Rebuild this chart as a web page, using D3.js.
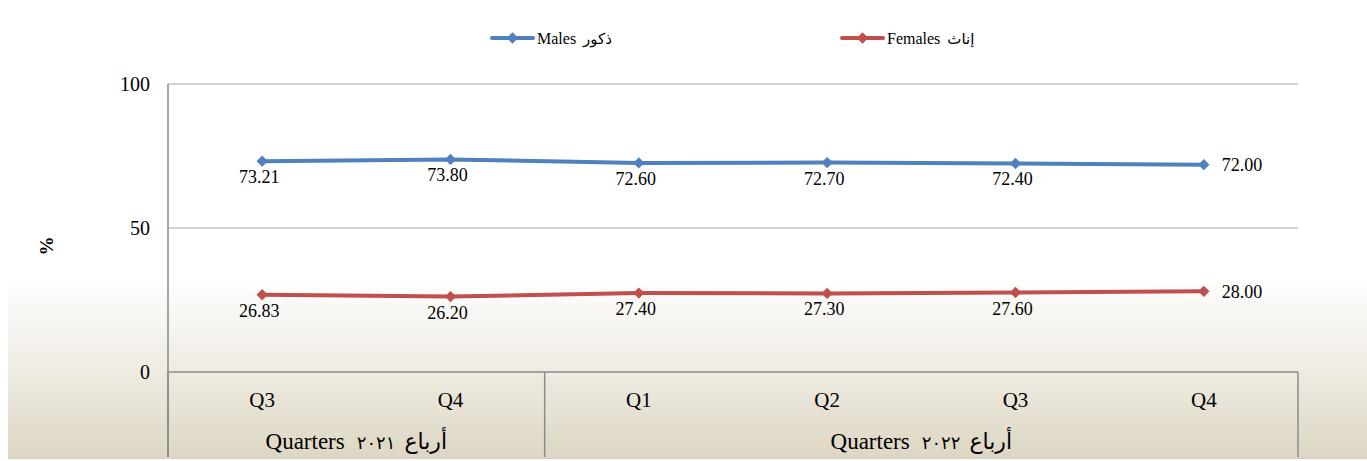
<!DOCTYPE html>
<html><head><meta charset="utf-8">
<script src="https://cdn.jsdelivr.net/npm/d3@7/dist/d3.min.js"></script>
<style>
html,body{margin:0;padding:0;background:#fff;}
svg{display:block;}
text{font-family:"Liberation Serif","Times New Roman",serif;fill:#000;}
.ar{font-family:"DejaVu Sans","Noto Sans",sans-serif;}
</style></head>
<body>
<svg id="c" width="1367" height="461"></svg>
<script>
const categories = ["Q3","Q4","Q1","Q2","Q3","Q4"];
const groups = [
  {en:"Quarters", num:"٢٠٢١", ar:"أرباع", start:0, end:2},
  {en:"Quarters", num:"٢٠٢٢", ar:"أرباع", start:2, end:6}
];
const males = [73.21, 73.80, 72.60, 72.70, 72.40, 72.00];
const females = [26.83, 26.20, 27.40, 27.30, 27.60, 28.00];
const yTicks = [0, 50, 100];
const seriesNames = [
  {en:"Males", ar:"ذكور", values: males, color:"#4f81bd"},
  {en:"Females", ar:"إناث", values: females, color:"#c0504d"}
];

const svg = d3.select("#c");
const L = 168, R = 1298, T = 84, B = 372, AX = 457;

// background
const defs = svg.append("defs");
const g1 = defs.append("linearGradient").attr("id","bg").attr("x1",0).attr("y1",0).attr("x2",0).attr("y2",1);
g1.append("stop").attr("offset","0").attr("stop-color","#ffffff");
g1.append("stop").attr("offset","0.6").attr("stop-color","#ffffff");
g1.append("stop").attr("offset","0.8").attr("stop-color","#efece3");
g1.append("stop").attr("offset","1").attr("stop-color","#ddd6c3");
svg.append("rect").attr("x",8).attr("y",3).attr("width",1359).attr("height",456).attr("fill","#cfcfcf");
svg.append("rect").attr("x",8).attr("y",3).attr("width",1359).attr("height",455).attr("fill","url(#bg)");

const x = d3.scaleBand().domain(d3.range(categories.length)).range([L, R]).padding(0);
const cx = i => x(i) + x.bandwidth()/2;
const y = d3.scaleLinear().domain([0,100]).range([B, T]);

// gridlines
svg.append("g").selectAll("line").data(yTicks.filter(d=>d>0)).join("line")
  .attr("x1",L).attr("x2",R).attr("y1",d=>y(d)).attr("y2",d=>y(d))
  .attr("stroke","#c4c4c4").attr("stroke-width",1.5);

// y axis labels
const ya = svg.append("g").attr("transform",`translate(${L-18},0)`)
  .call(d3.axisLeft(y).tickValues(yTicks).tickSize(0).tickPadding(0).tickFormat(d3.format("d")));
ya.select(".domain").remove();
ya.selectAll("text").style("font-family",'"Liberation Serif",serif').style("font-size","20px").attr("fill","#000");

// axis lines
svg.append("line").attr("x1",L).attr("x2",L).attr("y1",T).attr("y2",AX).attr("stroke","#8a8a8a").attr("stroke-width",1.5);
svg.append("line").attr("x1",L).attr("x2",R).attr("y1",B).attr("y2",B).attr("stroke","#8a8a8a").attr("stroke-width",1.5);
// group separators
const seps = [0, ...groups.map(g=>g.end)];
svg.append("g").selectAll("line").data(seps).join("line")
  .attr("x1",d=> d===categories.length ? R : x(d)).attr("x2",d=> d===categories.length ? R : x(d))
  .attr("y1",B).attr("y2",AX).attr("stroke","#8a8a8a").attr("stroke-width",1.5);

// category labels
svg.append("g").selectAll("text").data(categories).join("text")
  .attr("x",(d,i)=>cx(i)).attr("y",407).attr("text-anchor","middle")
  .style("font-size","21px").text(d=>d);

// group labels
groups.forEach(g=>{
  const center = (x(g.start) + (g.end===categories.length ? R : x(g.end)))/2;
  const gg = svg.append("g");
  const t1 = gg.append("text").attr("y",449).style("font-size","23px").text(g.en);
  const t2 = gg.append("text").attr("class","ar").attr("y",449).style("font-size","18px").style("letter-spacing","5px").text(g.num);
  const t3 = gg.append("text").attr("class","ar").attr("y",449).style("font-size","22px").text(g.ar);
  const w1 = t1.node().getComputedTextLength(), w2 = t2.node().getComputedTextLength(), w3 = t3.node().getComputedTextLength();
  const gap1 = 12, gap2 = 9;
  const total = w1+gap1+w2+gap2+w3;
  let sx = center - total/2;
  t1.attr("x",sx); t2.attr("x",sx+w1+gap1); t3.attr("x",sx+w1+gap1+w2+gap2);
});

// y title
svg.append("text").attr("transform","translate(46,246) rotate(-90)").attr("text-anchor","middle")
  .attr("dy","0.35em").style("font-size","19px").style("font-weight","bold").text("%");

// series
const line = d3.line().x((d,i)=>cx(i)).y(d=>y(d));
const diamond = d3.symbol().type(d3.symbolSquare).size(64);
seriesNames.forEach(s=>{
  svg.append("path").datum(s.values).attr("d",line).attr("fill","none")
    .attr("stroke",s.color).attr("stroke-width",4).attr("stroke-linejoin","round");
  svg.append("g").selectAll("path").data(s.values).join("path")
    .attr("d",diamond).attr("transform",(d,i)=>`translate(${cx(i)},${y(d)}) rotate(45)`)
    .attr("fill",s.color);
  svg.append("g").selectAll("text").data(s.values).join("text")
    .attr("x",(d,i)=> i===s.values.length-1 ? cx(i)+18 : cx(i)-3)
    .attr("y",(d,i)=> i===s.values.length-1 ? y(d) : y(d)+22)
    .attr("dy",(d,i)=> i===s.values.length-1 ? "0.35em" : 0)
    .attr("text-anchor",(d,i)=> i===s.values.length-1 ? "start" : "middle")
    .style("font-size","18px").text(d=>d3.format(".2f")(d));
});

// legend
const legX = [492, 842];
seriesNames.forEach((s,k)=>{
  const lg = svg.append("g").attr("transform",`translate(${legX[k]},38)`);
  lg.append("line").attr("x1",0).attr("x2",41).attr("y1",0).attr("y2",0).attr("stroke",s.color).attr("stroke-width",4).attr("stroke-linecap","round");
  lg.append("path").attr("d",diamond).attr("transform","translate(20.5,0) rotate(45)").attr("fill",s.color);
  const te = lg.append("text").attr("x",45).attr("y",6).style("font-size","16px").text(s.en);
  const w = te.node().getComputedTextLength();
  lg.append("text").attr("class","ar").attr("x",45+w+7).attr("y",6).style("font-size","15px").text(s.ar);
});
</script>
</body></html>
